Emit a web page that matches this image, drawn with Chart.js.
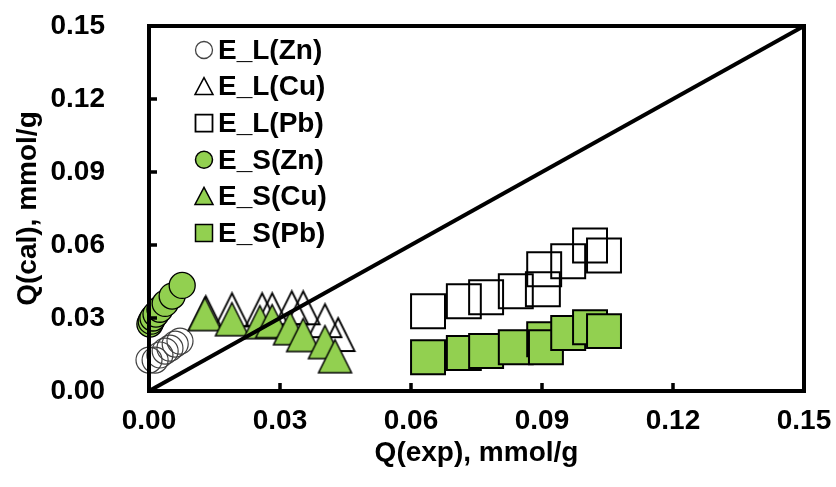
<!DOCTYPE html>
<html><head><meta charset="utf-8">
<script src="https://cdn.jsdelivr.net/npm/chart.js@4"></script>
<style>html,body{margin:0;padding:0;background:#fff}#wrap{width:836px;height:487px;position:relative}</style>
</head><body><div id="wrap"><canvas id="c" width="836" height="487"></canvas></div>
<script>
// ---- data ----
const seriesNames = ['E_L(Zn)', 'E_L(Cu)', 'E_L(Pb)', 'E_S(Zn)', 'E_S(Cu)', 'E_S(Pb)'];
const tickValues = [0.00, 0.03, 0.06, 0.09, 0.12, 0.15];
const lineX = [0, 0.15];
const lineY = [0, 0.15];

const elZnX = [0.0000, 0.0014, 0.0025, 0.0037, 0.0048, 0.0060, 0.0071];
const elZnY = [0.0127, 0.0127, 0.0148, 0.0164, 0.0176, 0.0193, 0.0205];
const elCuX = [0.0130, 0.0190, 0.0259, 0.0282, 0.0327, 0.0353, 0.0403, 0.0433];
const elCuY = [0.0322, 0.0334, 0.0334, 0.0334, 0.0342, 0.0342, 0.0289, 0.0232];
const elPbX = [0.0639, 0.0721, 0.0772, 0.0840, 0.0902, 0.0905, 0.0960, 0.1010, 0.1042];
const elPbY = [0.0328, 0.0369, 0.0385, 0.0410, 0.0418, 0.0500, 0.0533, 0.0598, 0.0557];
const esZnX = [0.0002, 0.0005, 0.0009, 0.0016, 0.0025, 0.0037, 0.0053, 0.0076];
const esZnY = [0.0275, 0.0287, 0.0300, 0.0316, 0.0336, 0.0360, 0.0390, 0.0434];
const esCuX = [0.0128, 0.0190, 0.0254, 0.0282, 0.0323, 0.0353, 0.0403, 0.0426];
const esCuY = [0.0316, 0.0295, 0.0283, 0.0287, 0.0258, 0.0230, 0.0201, 0.0143];
const esPbX = [0.0639, 0.0721, 0.0772, 0.0840, 0.0905, 0.0909, 0.0960, 0.1010, 0.1042];
const esPbY = [0.0139, 0.0156, 0.0164, 0.0180, 0.0213, 0.0180, 0.0238, 0.0262, 0.0246];

// ---- helpers ----
const pts = (xs, ys) => xs.map((x, i) => ({x, y: ys[i]}));
const GREEN = '#92D050';
const FONT = '"Liberation Sans", Arial, sans-serif';

function triCanvas(w, h, fill, stroke, lw) {
  const c = document.createElement('canvas');
  c.width = w + 4; c.height = h + 4;
  const g = c.getContext('2d');
  g.beginPath();
  g.moveTo(c.width / 2, 2);
  g.lineTo(c.width - 2, c.height - 2);
  g.lineTo(2, c.height - 2);
  g.closePath();
  if (fill) { g.fillStyle = fill; g.fill(); }
  g.lineWidth = lw; g.strokeStyle = stroke; g.lineJoin = 'miter'; g.stroke();
  return c;
}
const triOpen = triCanvas(33, 33, null, '#000', 1.8);
const triGreen = triCanvas(33, 33, GREEN, '#000', 1.5);

const legendSpec = [
  {shape: 'circle', fill: null, stroke: '#444', lw: 1.3},
  {shape: 'triangle', fill: null, stroke: '#000', lw: 1.5},
  {shape: 'square', fill: null, stroke: '#000', lw: 1.8},
  {shape: 'circle', fill: GREEN, stroke: '#000', lw: 1.5},
  {shape: 'triangle', fill: GREEN, stroke: '#000', lw: 1.5},
  {shape: 'square', fill: GREEN, stroke: '#000', lw: 1.5}
];

const framePlugin = {
  id: 'frame',
  afterDatasetsDraw(chart) {
    const {ctx, chartArea: a, scales} = chart;
    ctx.save();
    ctx.strokeStyle = '#000';
    ctx.lineWidth = 3.5;
    ctx.beginPath();
    tickValues.forEach(v => {
      const px = scales.x.getPixelForValue(v);
      ctx.moveTo(px, a.bottom); ctx.lineTo(px, a.bottom - 8);
      const py = scales.y.getPixelForValue(v);
      ctx.moveTo(a.left, py); ctx.lineTo(a.left + 8, py);
    });
    ctx.stroke();
    ctx.lineWidth = 4;
    ctx.lineJoin = 'miter';
    ctx.strokeRect(a.left, a.top, a.right - a.left, a.bottom - a.top);
    ctx.restore();
  },
  afterDraw(chart) {
    const {ctx} = chart;
    ctx.save();
    const sx = 204, tx = 218, y0 = 50, dy = 36.6;
    ctx.font = 'bold 28px ' + FONT;
    ctx.textBaseline = 'middle';
    ctx.fillStyle = '#000';
    seriesNames.forEach((name, i) => {
      const y = y0 + i * dy;
      const s = legendSpec[i];
      ctx.beginPath();
      if (s.shape === 'circle') {
        ctx.arc(sx, y, 8.5, 0, Math.PI * 2);
      } else if (s.shape === 'triangle') {
        ctx.moveTo(sx, y - 9); ctx.lineTo(sx + 9, y + 8); ctx.lineTo(sx - 9, y + 8); ctx.closePath();
      } else {
        ctx.rect(sx - 8.5, y - 8.5, 17, 17);
      }
      if (s.fill) { ctx.fillStyle = s.fill; ctx.fill(); }
      ctx.lineWidth = s.lw; ctx.strokeStyle = s.stroke; ctx.stroke();
      ctx.fillStyle = '#000';
      ctx.fillText(name, tx, y + 1);
    });
    ctx.restore();
  }
};

const tickFont = {family: FONT, size: 28, weight: 'bold'};

new Chart(document.getElementById('c'), {
  type: 'scatter',
  data: {
    datasets: [
      {label: 'y=x', data: pts(lineX, lineY), showLine: true, borderColor: '#000', borderWidth: 4, pointRadius: 0, order: 0, clip: false},
      {label: seriesNames[3], data: pts(esZnX, esZnY), pointStyle: 'circle', pointRadius: 13, backgroundColor: GREEN, borderColor: '#000', borderWidth: 1.3, order: 1, clip: false},
      {label: seriesNames[4], data: pts(esCuX, esCuY), pointStyle: triGreen, order: 1, clip: false},
      {label: seriesNames[5], data: pts(esPbX, esPbY), pointStyle: 'rect', pointRadius: 24, backgroundColor: GREEN, borderColor: '#000', borderWidth: 2, order: 1, clip: false},
      {label: seriesNames[0], data: pts(elZnX, elZnY), pointStyle: 'circle', pointRadius: 13, backgroundColor: 'rgba(0,0,0,0)', borderColor: '#404040', borderWidth: 1.2, order: 2, clip: false},
      {label: seriesNames[1], data: pts(elCuX, elCuY), pointStyle: triOpen, order: 2, clip: false},
      {label: seriesNames[2], data: pts(elPbX, elPbY), pointStyle: 'rect', pointRadius: 24, backgroundColor: 'rgba(0,0,0,0)', borderColor: '#000', borderWidth: 2, order: 2, clip: false}
    ]
  },
  options: {
    responsive: false,
    devicePixelRatio: 1,
    animation: false,
    layout: {padding: {left: 0, right: 32, top: 25, bottom: 0}},
    plugins: {legend: {display: false}, tooltip: {enabled: false}},
    elements: {point: {hoverRadius: 0}},
    scales: {
      x: {
        type: 'linear', min: 0, max: 0.15,
        afterBuildTicks: s => { s.ticks = tickValues.map(v => ({value: v})); },
        afterFit: s => { s.height = 96; s.paddingLeft = 0; s.paddingRight = 0; },
        grid: {display: false}, border: {display: false},
        ticks: {color: '#000', font: tickFont, padding: 5, maxRotation: 0, callback: v => v.toFixed(2)},
        title: {display: true, text: 'Q(exp), mmol/g', color: '#000', font: tickFont, padding: {top: 0, bottom: 17}}
      },
      y: {
        type: 'linear', min: 0, max: 0.15,
        afterBuildTicks: s => { s.ticks = tickValues.map(v => ({value: v})); },
        afterFit: s => { s.width = 149; s.paddingTop = 0; s.paddingBottom = 0; },
        grid: {display: false}, border: {display: false},
        ticks: {color: '#000', font: tickFont, padding: 36, callback: v => v.toFixed(2)},
        title: {display: true, text: 'Q(cal), mmol/g', color: '#000', font: tickFont, padding: {top: 11, bottom: 0}}
      }
    }
  },
  plugins: [framePlugin]
});
</script>
</body></html>
